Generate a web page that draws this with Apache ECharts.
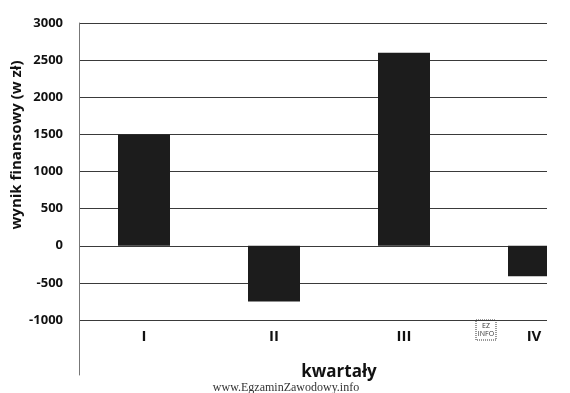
<!DOCTYPE html>
<html>
<head>
<meta charset="utf-8">
<script src="https://cdn.jsdelivr.net/npm/echarts@6/dist/echarts.min.js"></script>
<style>
html,body{margin:0;padding:0;background:#fff;}
#wrap{width:547px;height:393px;overflow:hidden;}
#c{width:600px;height:393px;}
</style>
</head>
<body>
<div id="wrap"><div id="c"></div></div>
<script>
var categories = ['I', 'II', 'III', 'IV'];
var values = [1500, -750, 2600, -410];
var yMin = -1000, yMax = 3000, yStep = 500;
var yTitle = 'wynik finansowy (w zł)';
var xTitle = 'kwartały';
var footer = 'www.EgzaminZawodowy.info';

var FONT = '"Open Sans", "DejaVu Sans", sans-serif';
var chart = echarts.init(document.getElementById('c'), null, {renderer: 'canvas'});
chart.setOption({
  animation: false,
  backgroundColor: '#fff',
  grid: [
    {left: 79, width: 520, top: 23, height: 297},
    {left: 79, width: 520, top: 23, height: 352}
  ],
  xAxis: [
    {
      type: 'category', gridIndex: 0, data: categories,
      axisLine: {show: false}, axisTick: {show: false},
      axisLabel: {margin: 9, fontFamily: FONT, fontWeight: 'bold', fontSize: 15, color: '#111'},
      name: xTitle, nameLocation: 'middle', nameGap: 44,
      nameTextStyle: {fontFamily: FONT, fontWeight: 'bold', fontSize: 17, color: '#111'}
    },
    {type: 'category', gridIndex: 1, data: categories, show: false}
  ],
  yAxis: [
    {
      type: 'value', gridIndex: 0, min: yMin, max: yMax, interval: yStep,
      axisLine: {show: false}, axisTick: {show: false},
      axisLabel: {margin: 16, fontFamily: FONT, fontWeight: 'bold', fontSize: 13, color: '#111',
                  formatter: function (v) { return String(v); }},
      splitLine: {show: true, lineStyle: {color: '#3a3a3a', width: 1}}
    },
    {
      type: 'value', gridIndex: 1, min: 0, max: 1,
      axisLine: {show: true, lineStyle: {color: '#777', width: 1}},
      axisTick: {show: false}, axisLabel: {show: false}, splitLine: {show: false}
    }
  ],
  series: [{
    type: 'bar', xAxisIndex: 0, yAxisIndex: 0, data: values,
    barWidth: '40%',
    itemStyle: {color: '#1c1c1c'}
  }],
  graphic: [
    {
      type: 'text', x: 17, y: 145, rotation: Math.PI / 2,
      style: {text: yTitle, fontFamily: FONT, fontWeight: 'bold', fontSize: 15, fill: '#111',
              align: 'center', verticalAlign: 'middle'}
    },
    {
      type: 'text', x: 286, y: 388,
      style: {text: footer, fontFamily: '"Liberation Serif", serif', fontSize: 12, fill: '#333',
              align: 'center', verticalAlign: 'middle'}
    },
    {
      type: 'group', x: 476, y: 320,
      children: [
        {type: 'rect', shape: {x: 0, y: 0, width: 20, height: 20},
         style: {fill: '#fff', stroke: '#333', lineWidth: 1, lineDash: [1, 1]}},
        {type: 'text', x: 10, y: 6, style: {text: 'EZ', fontFamily: FONT, fontSize: 7, fill: '#333', align: 'center', verticalAlign: 'middle'}},
        {type: 'text', x: 10, y: 14, style: {text: 'INFO', fontFamily: FONT, fontSize: 7, fill: '#333', align: 'center', verticalAlign: 'middle'}}
      ]
    }
  ]
});
</script>
</body>
</html>
